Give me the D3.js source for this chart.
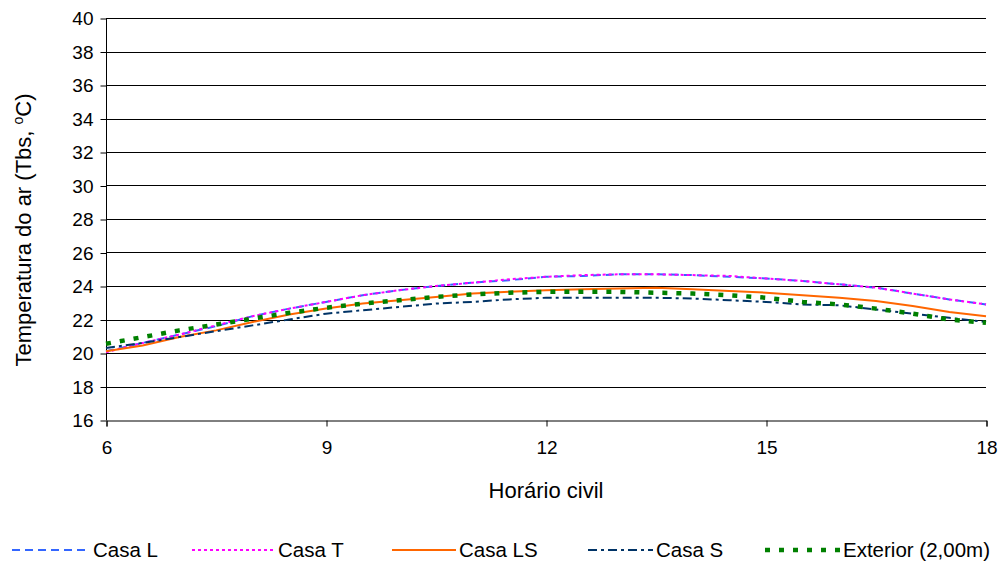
<!DOCTYPE html>
<html><head><meta charset="utf-8">
<script src="https://cdn.jsdelivr.net/npm/d3@7/dist/d3.min.js"></script>
<style>body{margin:0;background:#fff}text{font-family:"Liberation Sans",Arial,sans-serif}</style>
</head><body><svg id="c" width="1000" height="566"></svg>
<script>
const hours = [6,6.5,7,7.5,8,8.5,9,9.5,10,10.5,11,11.5,12,12.5,13,13.5,14,14.5,15,15.5,16,16.5,17,17.5,18];
const casaL  = [20.1,20.6,21.1,21.6,22.2,22.65,23.05,23.45,23.75,24.0,24.2,24.35,24.55,24.6,24.7,24.7,24.65,24.55,24.45,24.3,24.1,23.9,23.55,23.2,22.9];
const casaT  = [20.05,20.6,21.1,21.65,22.2,22.65,23.05,23.45,23.75,24.0,24.2,24.4,24.55,24.65,24.7,24.7,24.65,24.6,24.45,24.3,24.1,23.9,23.55,23.2,22.9];
const casaLS = [20.1,20.45,20.95,21.35,21.85,22.3,22.65,22.95,23.15,23.35,23.55,23.65,23.75,23.8,23.85,23.9,23.8,23.7,23.6,23.45,23.3,23.1,22.8,22.45,22.2];
const casaS  = [20.3,20.6,20.95,21.3,21.65,22.0,22.35,22.55,22.75,22.95,23.05,23.2,23.3,23.3,23.3,23.3,23.25,23.15,23.05,22.9,22.85,22.6,22.35,22.1,21.85];
const exterior = [20.55,20.95,21.35,21.7,22.05,22.4,22.7,22.95,23.15,23.35,23.5,23.6,23.65,23.65,23.65,23.6,23.55,23.45,23.3,23.05,22.9,22.65,22.35,22.0,21.8];
const xTicks = [6,9,12,15,18];
const yTicks = [16,18,20,22,24,26,28,30,32,34,36,38,40];
const seriesNames = ["Casa L","Casa T","Casa LS","Casa S","Exterior (2,00m)"];

const series = [
  {name:seriesNames[0], vals:casaL, color:"#3366FF", dash:"8,5", w:2},
  {name:seriesNames[1], vals:casaT, color:"#FF00FF", dash:"3,3", w:2},
  {name:seriesNames[2], vals:casaLS, color:"#FF6600", dash:null, w:2},
  {name:seriesNames[3], vals:casaS, color:"#003366", dash:"9,4,3,4", w:2},
  {name:seriesNames[4], vals:exterior, color:"#008000", dash:"5,9", w:4.5}
];

const svg = d3.select("#c");
const x = d3.scaleLinear().domain([6,18]).range([106,986]);
const y = d3.scaleLinear().domain([16,40]).range([420,18]);

svg.append("g").selectAll("line").data(yTicks.filter(d=>d>16)).join("line")
  .attr("x1",106).attr("x2",986).attr("y1",d=>Math.round(y(d))+0.5).attr("y2",d=>Math.round(y(d))+0.5)
  .attr("stroke","#000").attr("stroke-width",1);

const yAxis = svg.append("g").attr("transform","translate(106.5,0.5)")
  .call(d3.axisLeft(y).tickValues(yTicks).tickSize(6).tickPadding(7).tickFormat(d3.format("d")));
const xAxis = svg.append("g").attr("transform","translate(0.5,"+(Math.round(y(16))+0.5)+")")
  .call(d3.axisBottom(x).tickValues(xTicks).tickSize(6).tickPadding(14).tickFormat(d3.format("d")));
[yAxis,xAxis].forEach(a=>{
  a.select(".domain").attr("stroke","#000");
  a.selectAll(".tick line").attr("stroke","#000");
  a.selectAll("text").attr("fill","#000").style("font-size","19px").style("font-family","'Liberation Sans',Arial,sans-serif");
});
yAxis.select(".domain").attr("d","M0,"+y(16)+"V"+y(40));

const line = d3.line().x((d,i)=>x(hours[i])).y(d=>y(d));
series.forEach(s=>{
  svg.append("path").datum(s.vals).attr("d",line).attr("fill","none")
    .attr("stroke",s.color).attr("stroke-width",s.w)
    .attr("stroke-dasharray",s.dash);
});

svg.append("text").attr("x",546).attr("y",498).attr("text-anchor","middle")
  .style("font-size","22px").text("Horário civil");
const yt = svg.append("text").attr("transform","translate(31,230) rotate(-90)")
  .attr("text-anchor","middle").style("font-size","22px");
yt.append("tspan").text("Temperatura do ar (Tbs, ");
yt.append("tspan").attr("dy",-8).style("font-size","14px").text("o");
yt.append("tspan").attr("dy",8).text("C)");

const legX = [[12,90],[192,275],[392,456],[588,653],[765,840]];
const lg = svg.append("g");
series.forEach((s,i)=>{
  lg.append("line").attr("x1",legX[i][0]).attr("x2",legX[i][1]).attr("y1",550).attr("y2",550)
    .attr("stroke",s.color).attr("stroke-width",s.w).attr("stroke-dasharray",s.dash);
  lg.append("text").attr("x",legX[i][1]+3).attr("y",557).style("font-size","20.5px").text(s.name);
});
</script></body></html>
